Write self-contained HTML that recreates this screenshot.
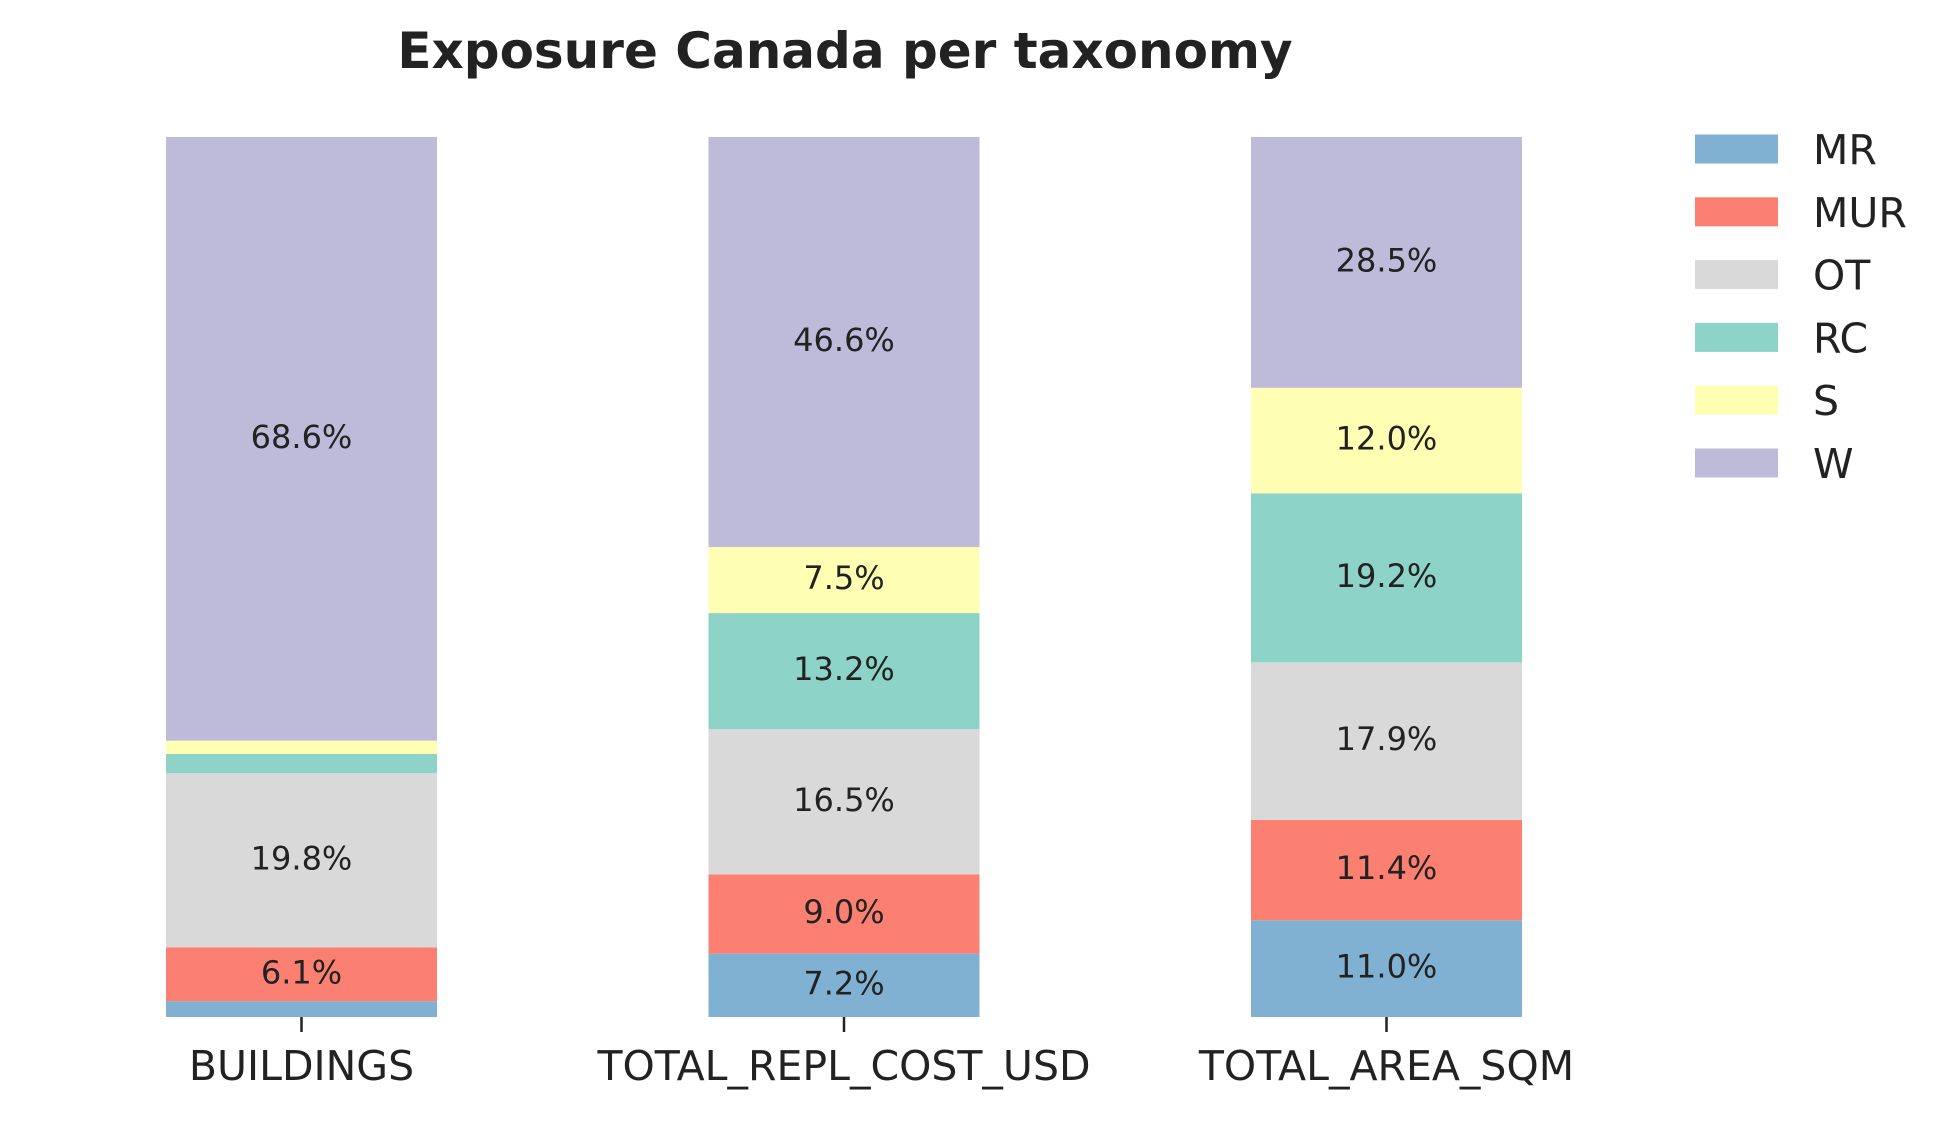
<!DOCTYPE html>
<html><head><meta charset="utf-8"><style>
html,body{margin:0;padding:0;background:#fff;}
svg text{font-family:"DejaVu Sans","Liberation Sans",sans-serif;fill:#222;}
</style></head><body>
<svg id="chart" width="1953" height="1118" viewBox="0 0 1953 1118" xmlns="http://www.w3.org/2000/svg">
<text x="845" y="68" text-anchor="middle" font-size="50" font-weight="bold">Exposure Canada per taxonomy</text>
<g id="bars"></g>
<g id="legend"></g>
</svg>
<script>
const categories = ["BUILDINGS","TOTAL_REPL_COST_USD","TOTAL_AREA_SQM"];
const seriesNames = ["MR","MUR","OT","RC","S","W"];
const seriesColors = ["#80b1d3","#fb8072","#d9d9d9","#8dd3c7","#ffffb3","#bebada"];
const mrValues = [1.8, 7.2, 11.0];
const murValues = [6.1, 9.0, 11.4];
const otValues = [19.8, 16.5, 17.9];
const rcValues = [2.2, 13.2, 19.2];
const sValues = [1.5, 7.5, 12.0];
const wValues = [68.6, 46.6, 28.5];
const seriesValues = [mrValues, murValues, otValues, rcValues, sValues, wValues];

const NS = "http://www.w3.org/2000/svg";
const plotTop = 137, plotBottom = 1017;
const firstCenter = 301.5, step = 542.5, barW = 271;
function xCenter(i){ return firstCenter + i*step; }
function yScale(v){ return plotBottom - (v/100)*(plotBottom-plotTop); }
function mk(tag, attrs){ const e=document.createElementNS(NS,tag); for(const k in attrs) e.setAttribute(k,attrs[k]); return e; }

const barsG = document.getElementById("bars");
categories.forEach((cat, i) => {
  let cum = 0;
  const cx = xCenter(i);
  seriesValues.forEach((vals, s) => {
    const v = vals[i];
    const y0 = yScale(cum), y1 = yScale(cum + v);
    const r = mk("rect", {x: cx - barW/2, y: y1, width: barW, height: y0 - y1, fill: seriesColors[s]});
    
    
    barsG.appendChild(r);
    if (v >= 5) {
      const t = mk("text", {x: cx, y: (y0 + y1)/2 + 9, "text-anchor": "middle", "font-size": "32"});
      t.textContent = v.toFixed(1) + "%";
      
      
      barsG.appendChild(t);
    }
    cum += v;
  });
  const tick = mk("line", {x1: cx, x2: cx, y1: plotBottom, y2: plotBottom + 15, stroke: "#222", "stroke-width": "2.5"});
  
  
  barsG.appendChild(tick);
  const lbl = mk("text", {x: cx, y: 1080, "text-anchor": "middle", "font-size": "41"});
  lbl.textContent = cat;
  
  
  barsG.appendChild(lbl);
});

const legG = document.getElementById("legend");
seriesNames.forEach((n, s) => {
  const cy = 149 + s*62.8;
  const sw = mk("rect", {x: 1695, y: cy - 14.5, width: 83, height: 29, fill: seriesColors[s]});
  
  
  legG.appendChild(sw);
  const t = mk("text", {x: 1813, y: cy + 15, "font-size": "41"});
  t.textContent = n;
  
  
  legG.appendChild(t);
});
</script>
</body></html>
